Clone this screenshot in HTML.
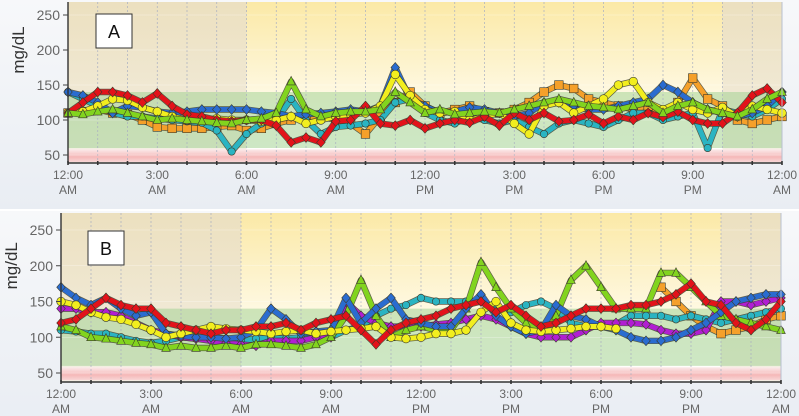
<!DOCTYPE html>
<html><head><meta charset="utf-8"><style>
body{margin:0;background:#fff;width:799px;height:416px;overflow:hidden;font-family:"Liberation Sans",sans-serif}
svg{display:block}
</style></head><body>
<svg id="c" width="799" height="416"></svg>
<script>
const hoursLabels=[["12:00","AM"],["3:00","AM"],["6:00","AM"],["9:00","AM"],["12:00","PM"],["3:00","PM"],["6:00","PM"],["9:00","PM"],["12:00","AM"]];
const yTicks=[50,100,150,200,250];
const aRed=[110,125,140,140,135,125,138,120,108,105,100,98,100,100,92,68,75,68,98,100,120,95,92,100,88,95,100,96,105,92,110,100,110,98,100,108,95,105,100,110,104,112,100,95,95,110,135,145,125];
const aYellow=[110,112,120,130,128,118,112,105,100,100,102,100,100,98,100,105,95,100,105,108,110,120,165,135,115,110,112,100,105,110,95,80,120,125,110,120,130,150,155,125,115,125,115,110,118,105,120,115,110];
const aOrange=[110,112,115,110,108,100,90,88,88,88,90,92,85,88,95,100,105,105,100,95,80,105,125,140,120,110,115,120,112,110,115,125,140,150,145,130,125,120,115,120,110,125,160,130,120,100,95,100,105];
const aBlue=[140,135,125,110,120,118,112,110,112,115,115,115,115,112,110,105,108,110,112,115,112,120,175,130,120,110,112,118,115,110,105,110,125,125,120,115,115,120,125,130,150,140,125,115,110,105,110,120,140];
const aGreen=[110,108,112,115,110,105,100,102,100,98,96,95,100,102,110,155,115,105,110,112,112,115,140,125,110,115,108,110,112,110,115,120,125,130,125,120,118,115,120,125,110,120,125,115,110,105,115,130,140];
const aCyan=[140,130,120,110,105,105,102,100,98,96,85,55,80,95,100,130,100,80,90,92,95,100,125,130,110,100,95,105,100,95,100,90,80,95,100,95,90,100,110,110,100,105,110,60,115,110,105,115,130];
const bRed=[120,125,140,155,145,140,140,120,115,110,105,110,110,115,115,120,110,120,125,130,110,90,110,120,125,130,140,145,150,135,145,130,115,120,130,140,140,140,145,145,150,160,175,150,145,120,110,125,150];
const bYellow=[150,145,135,128,125,118,110,100,105,110,115,112,110,108,105,108,110,105,108,110,112,115,100,98,100,105,105,110,135,150,120,110,108,110,112,115,115,112,null,null,null,null,null,null,null,null,null,null,null];
const bBlue=[170,155,145,155,140,130,135,105,102,100,100,98,100,110,140,125,105,108,110,155,120,140,155,125,120,115,115,140,160,130,115,105,110,145,130,125,115,110,100,95,95,100,110,120,135,150,155,160,160];
const bGreen=[115,110,100,98,95,92,90,85,88,85,85,88,85,90,90,88,85,90,100,130,180,130,100,110,115,110,110,140,205,170,140,120,110,130,180,200,170,140,140,140,190,190,170,150,130,125,120,115,110];
const bCyan=[110,108,105,105,100,95,92,95,100,98,100,98,95,98,100,98,100,105,100,110,115,130,140,145,155,150,150,150,150,140,135,145,150,140,120,115,115,118,130,130,130,125,130,125,120,125,130,135,140];
const bPurple=[140,140,135,135,130,120,110,105,100,98,95,92,90,88,95,95,95,100,100,150,130,120,115,115,115,118,120,125,130,125,115,105,100,100,100,110,120,120,120,118,110,105,105,110,150,150,145,150,155];
const bOrange=[null,null,null,null,null,null,null,null,null,null,null,null,null,null,null,null,null,null,null,null,null,null,null,null,null,null,null,null,null,null,null,null,null,null,null,null,null,null,null,null,170,150,130,115,105,110,115,125,130];

const NS="http://www.w3.org/2000/svg";
const svg=document.getElementById('c');
function mk(tag,attrs,parent){const e=document.createElementNS(NS,tag);for(const k in attrs)e.setAttribute(k,attrs[k]);(parent||svg).appendChild(e);return e;}
const defs=mk('defs',{});
defs.innerHTML=`<linearGradient id="yel" x1="0" y1="0" x2="0" y2="1"><stop offset="0" stop-color="#fbe9a6"/><stop offset="0.75" stop-color="#fffdf4"/><stop offset="1" stop-color="#ffffff"/></linearGradient>
<linearGradient id="tan" x1="0" y1="0" x2="0" y2="1"><stop offset="0" stop-color="#ece0bf"/><stop offset="1" stop-color="#f3efe4"/></linearGradient>
<linearGradient id="red" x1="0" y1="0" x2="0" y2="1"><stop offset="0" stop-color="#fbeaea"/><stop offset="0.6" stop-color="#f5b8b8"/><stop offset="1" stop-color="#f8d6d6"/></linearGradient>
<linearGradient id="out" x1="0" y1="0" x2="0" y2="1"><stop offset="0" stop-color="#f7f8fa"/><stop offset="1" stop-color="#e9edf3"/></linearGradient>`;

const colors={red:'#e3121a',yellow:'#f2ee1e',orange:'#f5a02a',blue:'#2a6cd0',green:'#82d41e',cyan:'#2ab4c2',purple:'#b11ed2'};

function marker(g,shape,x,y,col){
  const s=4.3;let e;
  if(shape==='circle')e=mk('circle',{cx:x,cy:y,r:s},g);
  else if(shape==='square')e=mk('rect',{x:x-s,y:y-s,width:2*s,height:2*s},g);
  else if(shape==='diamond')e=mk('polygon',{points:`${x},${y-s-0.6} ${x+s},${y} ${x},${y+s+0.6} ${x-s},${y}`},g);
  else if(shape==='triangle')e=mk('polygon',{points:`${x},${y-s-0.8} ${x+s},${y+s*0.8} ${x-s},${y+s*0.8}`},g);
  else {e=mk('circle',{cx:x,cy:y,r:s-0.6},g);}
  e.setAttribute('fill',col);e.setAttribute('stroke','#3a3a2a');e.setAttribute('stroke-width','0.6');
  
  
}

function panel(cfg){
  const {x0,x1,yTop,y50,y250,yBot,label,series,name}=cfg;
  const g=mk('g',{});
  
  
  const X=h=>x0+(x1-x0)*h/24;
  const Y=v=>y50+(v-50)*(y250-y50)/200;
  mk('rect',{x:0,y:yTop-2,width:799,height:yBot-yTop+48,fill:'url(#out)'},g);
  mk('rect',{x:x0,y:yTop,width:X(6)-x0,height:yBot-yTop,fill:'url(#tan)'},g);
  mk('rect',{x:X(6),y:yTop,width:X(22)-X(6),height:yBot-yTop,fill:'url(#yel)'},g);
  mk('rect',{x:X(22),y:yTop,width:x1-X(22),height:yBot-yTop,fill:'url(#tan)'},g);
  const band=mk('rect',{x:x0,y:Y(140),width:x1-x0,height:Y(60)-Y(140),fill:'#9ccf8e','fill-opacity':0.5},g);
  
  
  const low=mk('rect',{x:x0,y:Y(58),width:x1-x0,height:Y(40)-Y(58),fill:'url(#red)'},g);
  
  
  for(let h=1;h<24;h++)mk('line',{x1:X(h),x2:X(h),y1:yTop,y2:yBot,stroke:'#a8aec0','stroke-width':0.7,'stroke-dasharray':'2,2'},g);
  for(const v of yTicks){mk('line',{x1:x0,x2:x1,y1:Y(v),y2:Y(v),stroke:'#ffffff','stroke-opacity':0.5,'stroke-width':0.6},g);}
  for(const s of series){
    const sg=mk('g',{},g);
    
    
    const n=s.data.length;let seg=[];
    const segs=[];
    s.data.forEach((v,i)=>{if(v==null){if(seg.length)segs.push(seg);seg=[];}else seg.push([X(i*24/(n-1)),Y(v)]);});
    if(seg.length)segs.push(seg);
    for(const sp of segs){
      const pts=sp.map(p=>p.join(',')).join(' ');
      mk('polyline',{points:pts,fill:'none',stroke:'#3a3a2a','stroke-width':6.4,'stroke-linejoin':'round','stroke-linecap':'round','stroke-opacity':0.8},sg);
      mk('polyline',{points:pts,fill:'none',stroke:colors[s.key],'stroke-width':5,'stroke-linejoin':'round','stroke-linecap':'round'},sg);
      sp.forEach(p=>marker(sg,s.shape,p[0],p[1],colors[s.key]));
    }
  }
  mk('line',{x1:x0,x2:x0,y1:yTop,y2:yBot,stroke:'#333','stroke-width':1.4},g);
  mk('line',{x1:x0,x2:x1,y1:yBot,y2:yBot,stroke:'#333','stroke-width':1.4},g);
  mk('line',{x1:x1,x2:x1,y1:yTop,y2:yBot,stroke:'#b8c0d0','stroke-width':1},g);
  for(let h=0;h<=24;h++)mk('line',{x1:X(h),x2:X(h),y1:yBot-2,y2:yBot+2,stroke:'#333','stroke-width':1.6},g);
  for(const v of yTicks){
    mk('line',{x1:x0-5,x2:x0,y1:Y(v),y2:Y(v),stroke:'#444','stroke-width':1},g);
    const t=mk('text',{x:x0-8,y:Y(v)+5,'text-anchor':'end','font-size':14,fill:'#666'},g);t.textContent=v;
    
    
  }
  hoursLabels.forEach((l,i)=>{
    const t1=mk('text',{x:X(i*3),y:yBot+16,'text-anchor':'middle','font-size':12,fill:'#666'},g);t1.textContent=l[0];
    
    
    const t2=mk('text',{x:X(i*3),y:yBot+31,'text-anchor':'middle','font-size':12,fill:'#666'},g);t2.textContent=l[1];
    
    
  });
  const yt=mk('text',{x:0,y:0,'text-anchor':'middle','font-size':17,fill:'#333',transform:`translate(${x0-44},${Y(200)}) rotate(-90)`},g);
  yt.textContent='mg/dL';
  
  
  const bx=mk('rect',{x:label.x,y:label.y,width:36,height:34,fill:'#fff',stroke:'#333','stroke-width':1},g);
  
  
  const lt=mk('text',{x:label.x+18,y:label.y+24,'text-anchor':'middle','font-size':18,fill:'#111'},g);
  lt.textContent=label.t;
  
  
}

panel({name:'chart-a',x0:68,x1:782,yTop:2,y50:155,y250:15,yBot:163,label:{x:96,y:14,t:'A'},
 series:[{key:'orange',shape:'square',data:aOrange},{key:'cyan',shape:'star',data:aCyan},{key:'blue',shape:'diamond',data:aBlue},{key:'yellow',shape:'circle',data:aYellow},{key:'red',shape:'diamond',data:aRed},{key:'green',shape:'triangle',data:aGreen}]});
panel({name:'chart-b',x0:61,x1:781,yTop:213,y50:373,y250:230,yBot:382,label:{x:88,y:231,t:'B'},
 series:[{key:'orange',shape:'square',data:bOrange},{key:'cyan',shape:'star',data:bCyan},{key:'purple',shape:'diamond',data:bPurple},{key:'green',shape:'triangle',data:bGreen},{key:'blue',shape:'diamond',data:bBlue},{key:'yellow',shape:'circle',data:bYellow},{key:'red',shape:'diamond',data:bRed}]});
</script>
</body></html>
